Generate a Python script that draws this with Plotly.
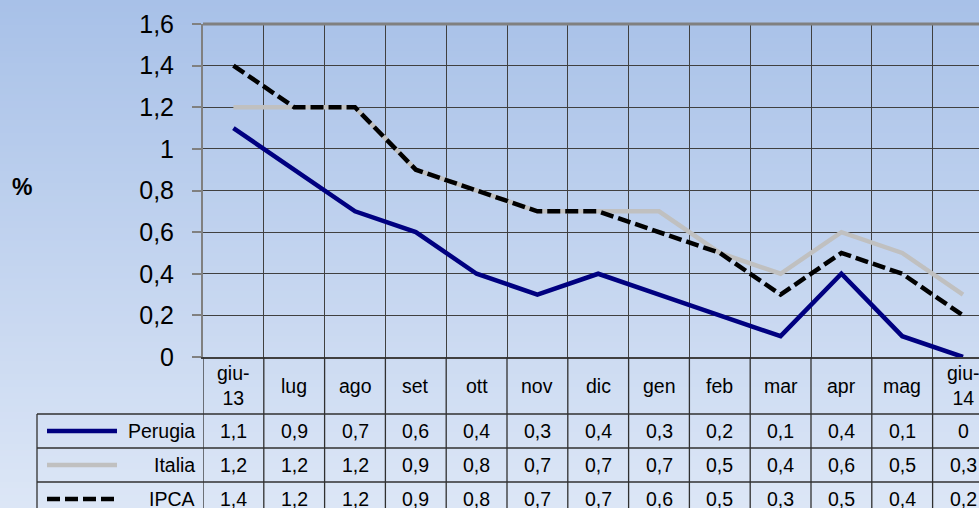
import plotly.graph_objects as go

months = ["giu-13", "lug", "ago", "set", "ott", "nov", "dic", "gen", "feb", "mar", "apr", "mag", "giu-14"]
perugia = [1.1, 0.9, 0.7, 0.6, 0.4, 0.3, 0.4, 0.3, 0.2, 0.1, 0.4, 0.1, 0]
italia = [1.2, 1.2, 1.2, 0.9, 0.8, 0.7, 0.7, 0.7, 0.5, 0.4, 0.6, 0.5, 0.3]
ipca = [1.4, 1.2, 1.2, 0.9, 0.8, 0.7, 0.7, 0.6, 0.5, 0.3, 0.5, 0.4, 0.2]
y_ticks = [0, 0.2, 0.4, 0.6, 0.8, 1, 1.2, 1.4, 1.6]

FONT = "Arial, Liberation Sans, sans-serif"
W, H = 979, 508
ML, MT, MB = 203, 24, 151
PW, PH = W - ML, H - MT - MB
COLW = 60.8
TFONT = 19.5


def px_x(p):
    return (p - ML) / PW


def px_y(p):
    return (H - MB - p) / PH


series = [
    ("Perugia", perugia, dict(color="#000080", width=4.5)),
    ("Italia", italia, dict(color="#c0c0c0", width=4.5)),
    ("IPCA", ipca, dict(color="#000000", width=4.5, dash="13px,5px")),
]

idx = list(range(len(months)))
fig = go.Figure()
for name, vals, line in series:
    fig.add_trace(go.Scatter(x=idx, y=vals, mode="lines", name=name, line=line,
                             showlegend=False, hoverinfo="skip"))

shapes = []
# gradient background
N = 80
top = (168, 193, 232)
bot = (220, 230, 246)
ytop, ybot = px_y(0), px_y(H)
for i in range(N):
    t = i / (N - 1)
    c = tuple(round(top[k] + (bot[k] - top[k]) * t) for k in range(3))
    y0 = ytop + (ybot - ytop) * i / N
    y1 = ytop + (ybot - ytop) * (i + 1) / N
    shapes.append(dict(type="rect", xref="paper", yref="paper", x0=px_x(0), x1=1.05,
                       y0=y1 - 0.002, y1=y0 + 0.002, fillcolor="rgb(%d,%d,%d)" % c,
                       line=dict(width=0), layer="below"))

# top border
shapes.append(dict(type="line", xref="paper", yref="paper", x0=0, x1=1, y0=1, y1=1,
                   line=dict(color="#808080", width=3)))

# table vertical lines (category boundaries extended down)
ybottom = px_y(H + 5)
for i in range(len(months) + 1):
    shapes.append(dict(type="line", xref="x", yref="paper", x0=i - 0.5, x1=i - 0.5,
                       y0=0, y1=ybottom, line=dict(color="#303030", width=1.3)))
# legend column left border
shapes.append(dict(type="line", xref="paper", yref="paper", x0=px_x(37), x1=px_x(37),
                   y0=px_y(414), y1=ybottom, line=dict(color="#303030", width=1.3)))
# table horizontal lines
for py in (414, 448, 482):
    shapes.append(dict(type="line", xref="paper", yref="paper", x0=px_x(37), x1=1.02,
                       y0=px_y(py), y1=px_y(py), line=dict(color="#303030", width=1.3)))

annotations = []
# header labels
for i, m in enumerate(months):
    annotations.append(dict(x=i, y=px_y(385.5), xref="x", yref="paper",
                            text=m.replace("-", "-<br>"), showarrow=False,
                            xanchor="center", yanchor="middle",
                            font=dict(family=FONT, size=TFONT, color="#000000")))

row_centers = [431, 465, 499]
for (name, vals, line), rc in zip(series, row_centers):
    ly = px_y(rc)
    shapes.append(dict(type="line", xref="paper", yref="paper", x0=px_x(47), x1=px_x(117),
                       y0=ly, y1=ly, line=line))
    annotations.append(dict(x=px_x(197), y=ly, xref="paper", yref="paper", text=name,
                            showarrow=False, xanchor="right", yanchor="middle",
                            font=dict(family=FONT, size=TFONT, color="#000000")))
    for i, v in enumerate(vals):
        annotations.append(dict(x=i, y=ly, xref="x", yref="paper",
                                text=("%g" % v).replace(".", ","), showarrow=False,
                                xanchor="center", yanchor="middle",
                                font=dict(family=FONT, size=TFONT, color="#000000")))

# % axis title
annotations.append(dict(x=px_x(22), y=px_y(187), xref="paper", yref="paper", text="<b>%</b>",
                        showarrow=False, xanchor="center", yanchor="middle",
                        font=dict(family=FONT, size=23, color="#000000")))

fig.update_layout(
    width=W, height=H,
    margin=dict(l=ML, r=0, t=MT, b=MB, pad=0),
    paper_bgcolor="#c4d3ee",
    plot_bgcolor="#ffffff",
    separators=", ",
    showlegend=False,
    shapes=shapes,
    annotations=annotations,
    xaxis=dict(range=[-0.5, -0.5 + PW / COLW], tickvals=[i - 0.5 for i in range(len(months) + 1)],
               showticklabels=False, ticks="", showgrid=True, gridcolor="#404040", gridwidth=1,
               showline=True, linecolor="#404040", linewidth=1.5, zeroline=False, fixedrange=True),
    yaxis=dict(range=[0, 1.6], tickvals=y_ticks, showgrid=True, gridcolor="#404040", gridwidth=1,
               showline=True, linecolor="#808080", linewidth=2, ticks="outside", ticklen=9,
               tickcolor="#808080", tickwidth=1.5, zeroline=False, ticklabelstandoff=13,
               tickfont=dict(family=FONT, size=25, color="#000000"), fixedrange=True),
)

fig.write_html("out.html", config={"displayModeBar": False},
               post_script="document.body.style.margin='0';document.body.style.overflow='hidden';")
